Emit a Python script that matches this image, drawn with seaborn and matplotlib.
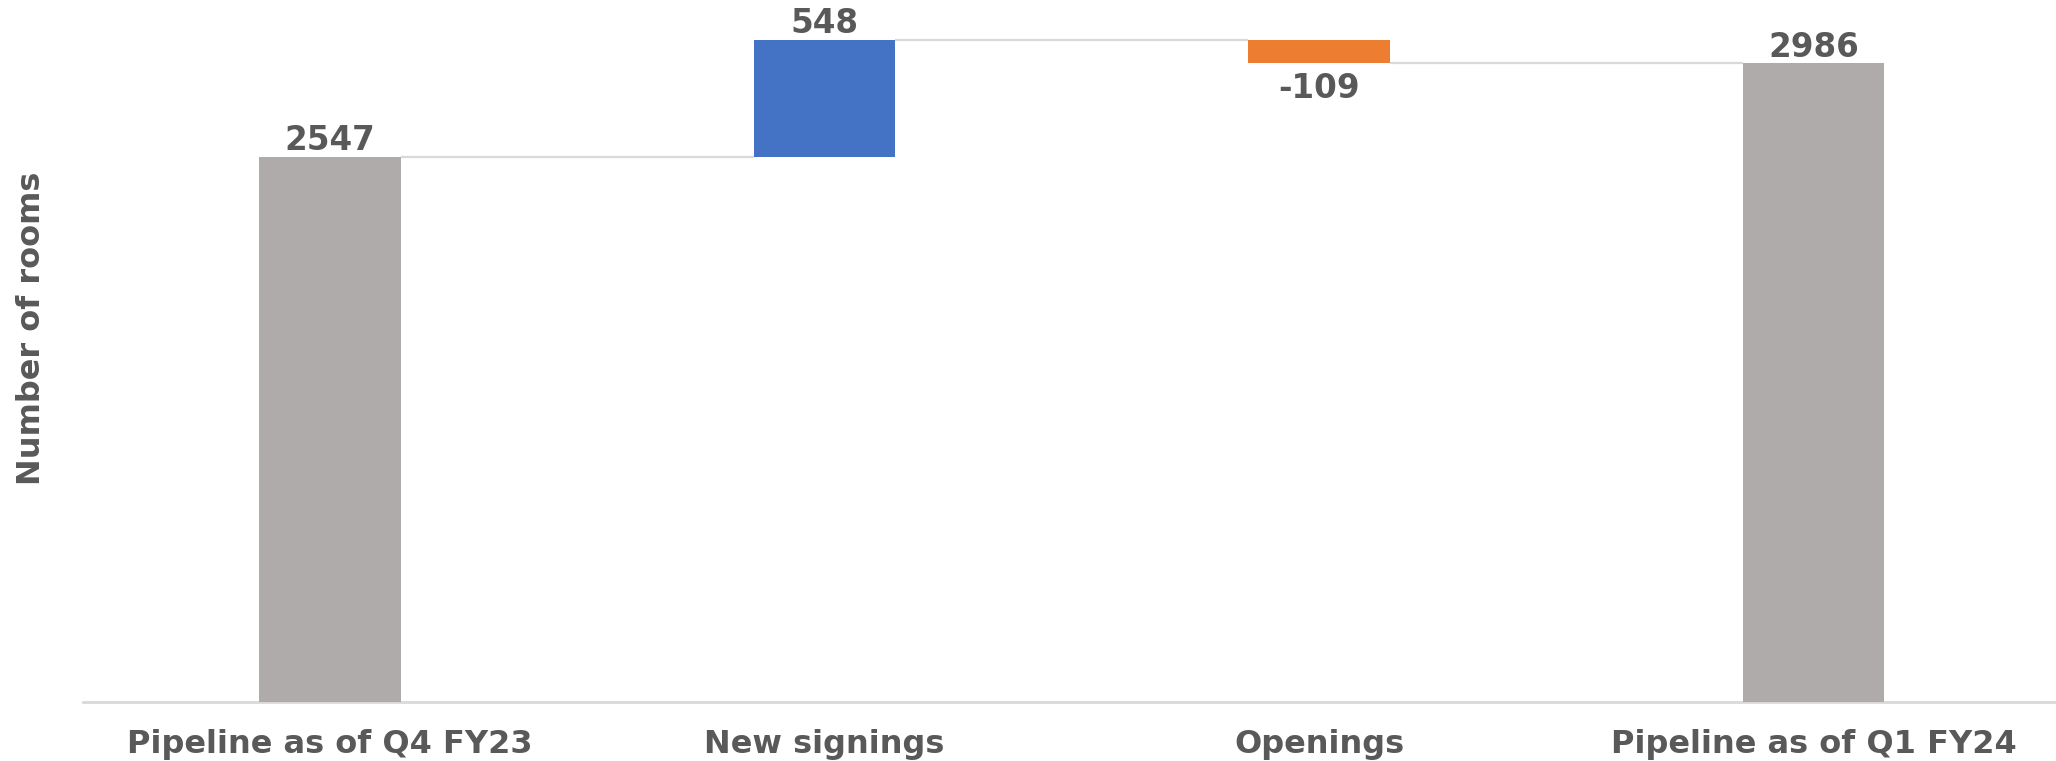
import matplotlib
matplotlib.use("Agg")
import matplotlib.pyplot as plt
import seaborn as sns
import pandas as pd
import numpy as np

# ---- data ----
categories = ["Pipeline as of Q4 FY23", "New signings", "Openings", "Pipeline as of Q1 FY24"]
values = [2547, 548, -109, 2986]
kinds = ["total", "increase", "decrease", "total"]
label_texts = ["2547", "548", "-109", "2986"]

# ---- styling ----
colors = {"total": "#AFABAB", "increase": "#4472C4", "decrease": "#ED7D31"}
text_color = "#595959"
line_color = "#D9D9D9"

sns.set_theme(style="white")
plt.rcParams["font.family"] = ["DejaVu Sans"]

# waterfall geometry from the data
bottoms, heights, tops = [], [], []
running = 0
for v, k in zip(values, kinds):
    if k == "total":
        bottoms.append(0)
        heights.append(v)
        running = v
    else:
        new = running + v
        bottoms.append(min(running, new))
        heights.append(abs(v))
        running = new
    tops.append(running)

df = pd.DataFrame({"category": categories, "height": heights})
palette = [colors[k] for k in kinds]

fig = plt.figure(figsize=(20.56, 7.61), dpi=100)
ax = fig.add_axes([82.6 / 2056, (761 - 701.5) / 761, 1 - 82.6 / 2056, 701.5 / 761])

bar_w = 0.286
sns.barplot(data=df, x="category", y="height", hue="category", palette=palette,
            saturation=1, dodge=False, width=bar_w, legend=False, ax=ax,
            edgecolor="none", linewidth=0, zorder=3)
# float each bar on its waterfall base
for patch, b in zip(ax.patches, bottoms):
    patch.set_y(b)

ax.set_xlim(-0.5, len(categories) - 0.51)
ax.set_ylim(0, 3283)

# connector lines
for i in range(len(categories) - 1):
    ax.plot([i + bar_w / 2, i + 1 - bar_w / 2], [tops[i], tops[i]],
            color=line_color, lw=1.6, zorder=2, solid_capstyle="butt")

# value labels
for i, v in enumerate(values):
    top = bottoms[i] + heights[i]
    if v >= 0:
        ax.text(i, top + 32, label_texts[i], ha="center", va="baseline",
                fontsize=23.5, fontweight="bold", color=text_color, clip_on=False)
    else:
        ax.text(i, bottoms[i] - 163, label_texts[i], ha="center", va="baseline",
                fontsize=23.5, fontweight="bold", color=text_color, clip_on=False)

# axes styling
for s in ["top", "right", "left"]:
    ax.spines[s].set_visible(False)
ax.spines["bottom"].set_color(line_color)
ax.spines["bottom"].set_linewidth(2)
ax.set_yticks([])
ax.set_xlabel("")
ax.tick_params(axis="x", length=0, pad=20)
for lab in ax.get_xticklabels():
    lab.set_fontsize(23)
    lab.set_fontweight("bold")
    lab.set_color(text_color)

ax.set_ylabel("Number of rooms", fontsize=23, fontweight="bold", color=text_color)
ax.yaxis.set_label_coords(-0.0257, (701.5 - 328) / 701.5)
ax.yaxis.label.set_verticalalignment("center")

fig.savefig("out.png", dpi=100)
